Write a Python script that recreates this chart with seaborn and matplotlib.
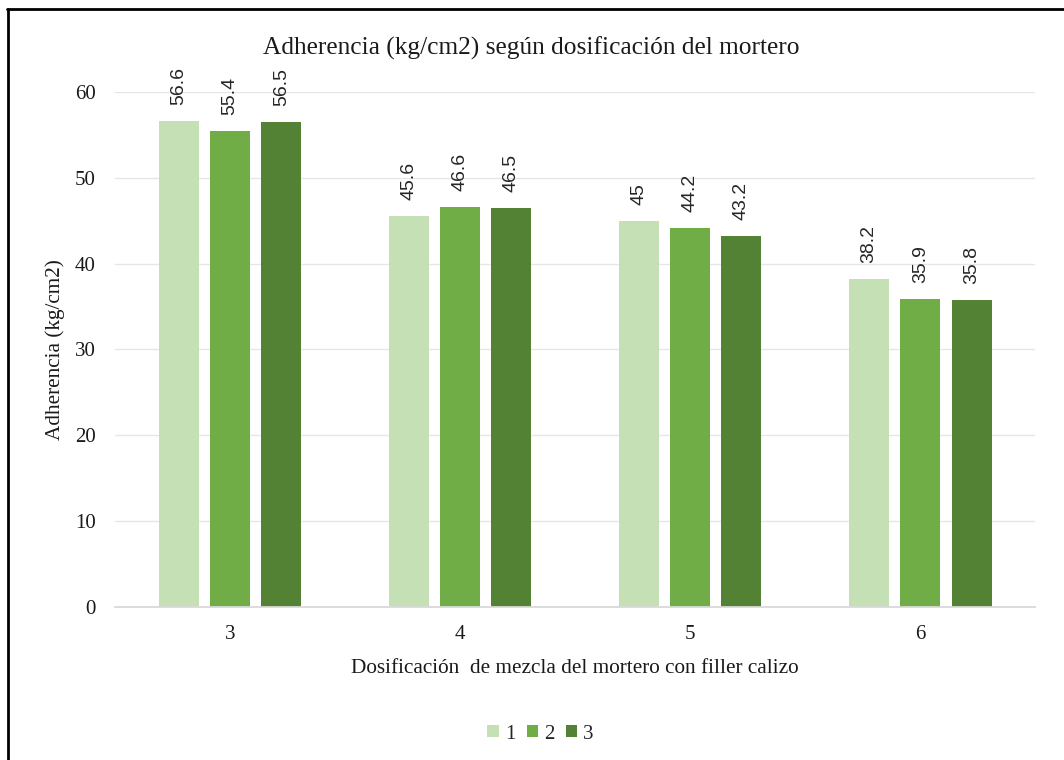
import matplotlib
matplotlib.use("Agg")
import matplotlib.pyplot as plt
from matplotlib.lines import Line2D
import seaborn as sns
import pandas as pd

# Chart data
dosificaciones = ["3", "4", "5", "6"]
series = ["1", "2", "3"]
serie_1 = [56.6, 45.6, 45.0, 38.2]
serie_2 = [55.4, 46.6, 44.2, 35.9]
serie_3 = [56.5, 46.5, 43.2, 35.8]
y_ticks = [0, 10, 20, 30, 40, 50, 60]

colores = ["#C5E0B4", "#70AD47", "#548235"]

rows = []
for s, vals in zip(series, [serie_1, serie_2, serie_3]):
    for d, v in zip(dosificaciones, vals):
        rows.append({"dosificacion": d, "serie": s, "valor": v})
df = pd.DataFrame(rows)

sns.set_theme(style="white")
plt.rcParams["font.family"] = ["Liberation Serif", "DejaVu Serif"]

fig = plt.figure(figsize=(10.64, 7.6), dpi=100)
ax = fig.add_axes([0.108, 0.2013, 0.865, 0.6777])

sns.barplot(data=df, x="dosificacion", y="valor", hue="serie",
            order=dosificaciones, hue_order=series, palette=colores,
            width=0.669, gap=0.22, saturation=1, errorbar=None,
            linewidth=0, ax=ax, legend=True)

# Value labels above each bar, rotated
for cont in ax.containers:
    labels = [f"{v:g}" for v in cont.datavalues]
    ax.bar_label(cont, labels=labels, rotation=90, padding=11.5,
                 fontsize=14, family="Liberation Sans", color="#262626")

ax.set_ylim(0, 60)
ax.set_xlim(-0.5, 3.5)
ax.set_yticks(y_ticks)
ax.yaxis.grid(True, color="#E6E6E6", linewidth=1)
ax.set_axisbelow(True)
for side in ["top", "right", "left"]:
    ax.spines[side].set_visible(False)
ax.spines["bottom"].set_color("#D9D9D9")
ax.spines["bottom"].set_linewidth(1.3)
ax.tick_params(axis="both", length=0, labelsize=15, colors="#1a1a1a")
ax.tick_params(axis="x", pad=13)
ax.tick_params(axis="y", pad=14)

ax.set_xlabel("Dosificación  de mezcla del mortero con filler calizo",
              fontsize=15.3, color="#1a1a1a", labelpad=11)
ax.set_ylabel("Adherencia (kg/cm2)", fontsize=15.3, color="#1a1a1a", labelpad=7)
fig.text(0.499, 0.937, "Adherencia (kg/cm2) según dosificación del mortero",
         ha="center", va="center", fontsize=18.3, color="#1a1a1a")

leg = ax.legend(loc="center", bbox_to_anchor=(0.508, 0.034),
                bbox_transform=fig.transFigure, ncol=3, frameon=False,
                fontsize=15, handlelength=0.53, handleheight=0.53,
                handletextpad=0.3, columnspacing=0.55, title=None)

# Frame lines on the left and top edges
fig.add_artist(Line2D([0.0075, 0.0075], [0, 0.988], transform=fig.transFigure,
                      color="black", linewidth=2))
fig.add_artist(Line2D([0.0065, 1.0], [0.988, 0.988], transform=fig.transFigure,
                      color="black", linewidth=2))

fig.savefig("out.png", dpi=100, facecolor="white")
